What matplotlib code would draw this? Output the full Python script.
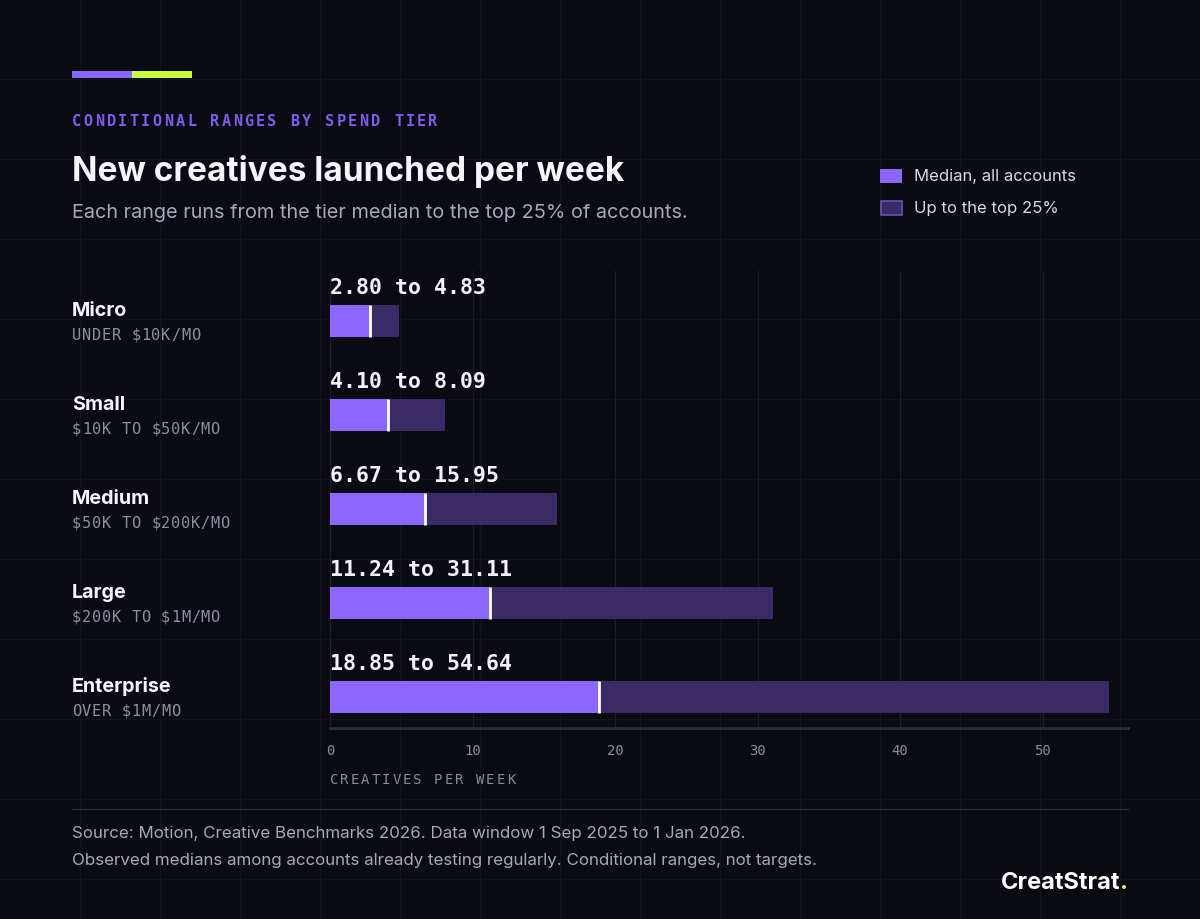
import numpy as np
from matplotlib import pyplot as plt
from matplotlib.patches import Rectangle

plt.rcParams['text.parse_math'] = False

# dados
tiers = ['Micro', 'Small', 'Medium', 'Large', 'Enterprise']
spend = ['UNDER $10K/MO', '$10K TO $50K/MO', '$50K TO $200K/MO', '$200K TO $1M/MO', 'OVER $1M/MO']
median = [2.80, 4.10, 6.67, 11.24, 18.85]
top25 = [4.83, 8.09, 15.95, 31.11, 54.64]
xticks = [0, 10, 20, 30, 40, 50]

W, H = 1200, 920
BG = '#0a0a12'
PURPLE = '#8b66ff'
RANGE = '#3a2a66'
LIME = '#c8ff3a'
GRAY = '#a9a8b8'
MONO = 'DejaVu Sans Mono'
SANS = 'Inter'

fig = plt.figure(figsize=(12, 9.2), dpi=100, facecolor=BG)


def px(x, y):
    return x / W, 1 - y / H


def spaced(x, y, s, pitch, **kw):
    # texto com espacamento entre letras, um caractere por vez
    for i, c in enumerate(s):
        if c != ' ':
            fig.text(*px(x + i * pitch, y), c, ha='left', **kw)


# grade de fundo
bg = fig.add_axes([0, 0, 1, 1], zorder=-5)
bg.set_xlim(0, W)
bg.set_ylim(H, 0)
bg.axis('off')
for g in range(80, W, 80):
    bg.axvline(g, color='#13131c', lw=1, zorder=0)
for g in range(80, H, 80):
    bg.axhline(g, color='#13131c', lw=1, zorder=0)

# faixa de destaque
bg.add_patch(Rectangle((72, 72), 60, 7, color=PURPLE, lw=0, zorder=3))
bg.add_patch(Rectangle((132, 72), 60, 7, color=LIME, lw=0, zorder=3))

spaced(72, 121, 'CONDITIONAL RANGES BY SPEND TIER', 11.5, fontsize=11, family=MONO,
       fontweight='bold', color='#7f5cf0', va='center')
fig.text(*px(72, 181), 'New creatives launched per week', fontsize=24, family=SANS,
         fontweight='bold', color='#f5f5fa', va='baseline')
fig.text(*px(72, 218), 'Each range runs from the tier median to the top 25% of accounts.',
         fontsize=14.3, family=SANS, color=GRAY, va='baseline')

# legenda
bg.add_patch(Rectangle((880, 170), 22, 14, color=PURPLE, lw=0, zorder=3))
bg.add_patch(Rectangle((880.5, 201.5), 21, 14, facecolor=RANGE, edgecolor='#6a52b8', lw=1.2, zorder=3))
fig.text(*px(914, 176), 'Median, all accounts', fontsize=12, family=SANS, color='#d8d8e2', va='center')
fig.text(*px(914, 208), 'Up to the top 25%', fontsize=12, family=SANS, color='#d8d8e2', va='center')

# grafico
ax = fig.add_axes([330 / W, 1 - 729 / H, (1128 - 330) / W, (729 - 272) / H])
ax.set_facecolor('none')
y = np.arange(len(tiers))
ax.set_xlim(0, 56)
ax.set_ylim(4 + 31 / 94, -50 / 94)
for t in xticks:
    ax.axvline(t, color='#1d1d27', lw=1, zorder=0)

h = 32 / 94
ax.barh(y, top25, height=h, color=RANGE, zorder=2)
ax.barh(y, median, height=h, color=PURPLE, zorder=3)
for i in range(len(tiers)):
    ax.plot([median[i], median[i]], [i - h / 2, i + h / 2], color='white', lw=2, zorder=4,
            solid_capstyle='butt')
    ax.text(0, i - 28 / 94, f'{median[i]:.2f} to {top25[i]:.2f}', fontsize=15.5, family=MONO,
            fontweight='bold', color='#f2f2f7', va='baseline', ha='left')

for s in ['top', 'right', 'left']:
    ax.spines[s].set_visible(False)
ax.spines['bottom'].set_color('#2e2e3a')
ax.spines['bottom'].set_linewidth(2)
ax.set_yticks([])
ax.set_xticks(xticks)
ax.set_xticklabels([str(t) for t in xticks], family=MONO, fontsize=10, color='#8a8a9a')
ax.tick_params(axis='x', length=0, pad=11)

spaced(330, 780, 'CREATIVES PER WEEK', 10.4, fontsize=10, family=MONO, color='#8a8a9a', va='center')

# rotulos das faixas
for i in range(len(tiers)):
    cy = 322 + 94 * i
    fig.text(*px(72, cy - 6), tiers[i], fontsize=14.2, family=SANS, fontweight='bold',
             color='#f5f5fa', va='baseline')
    spaced(72, cy + 18, spend[i], 9.9, fontsize=11, family=MONO, color='#8f8f9f', va='baseline')

# rodape
bg.plot([72, 1128], [810, 810], color='#2a2a36', lw=1, zorder=3)
fig.text(*px(72, 834), 'Source: Motion, Creative Benchmarks 2026. Data window 1 Sep 2025 to 1 Jan 2026.',
         fontsize=12.2, family=SANS, color=GRAY, va='center')
fig.text(*px(72, 861), 'Observed medians among accounts already testing regularly. Conditional ranges, not targets.',
         fontsize=12.2, family=SANS, color=GRAY, va='center')

dot = fig.text(*px(1128, 889), '.', fontsize=17, family=SANS, fontweight='bold', color=LIME,
               ha='right', va='baseline')
r = fig.canvas.get_renderer()
dw = dot.get_window_extent(r).width
fig.text(*px(1128 - dw, 889), 'CreatStrat', fontsize=17, family=SANS, fontweight='bold',
         color='white', ha='right', va='baseline')

fig.savefig('out.png', dpi=100, facecolor=BG)
